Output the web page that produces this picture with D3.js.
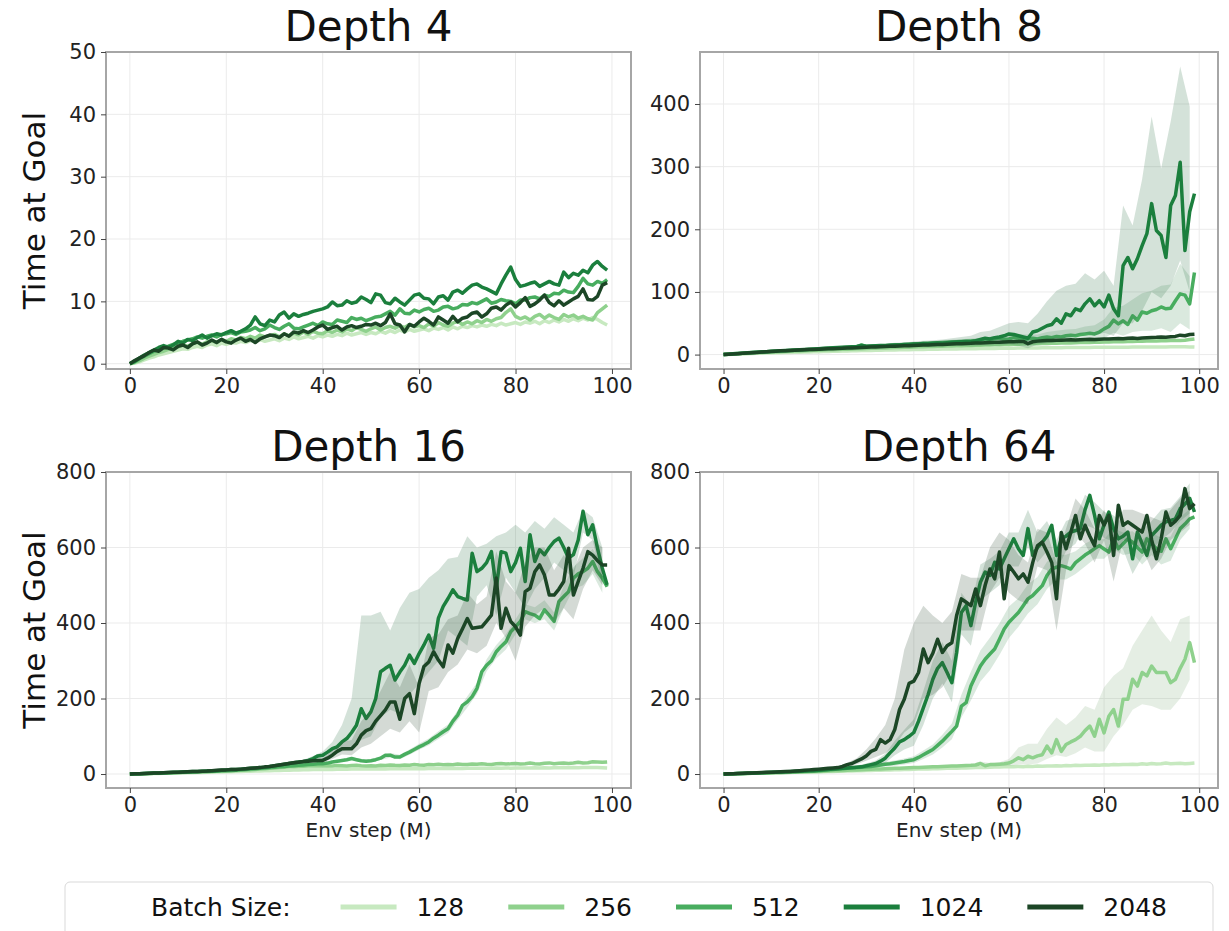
<html>
<head>
<meta charset="utf-8">
<title>Time at Goal by depth</title>
<script src="https://cdn.jsdelivr.net/npm/d3@7"></script>
<style>
  body { margin: 0; background: #fff; }
  text { font-family: 'DejaVu Sans', sans-serif; }
</style>
</head>
<body>
<script>
var width = 1229, height = 931;

// batch sizes and their colours
var batchSizes = ['128', '256', '512', '1024', '2048'];
var colors = ['#c7e9c0', '#8fd18d', '#48ad5f', '#1b7f3d', '#1c4626'];

// env step (M) of every logged point, and of the confidence band samples
var steps = d3.range(100);
var bandSteps = d3.range(0, 100, 2);

var xTicks = [0, 20, 40, 60, 80, 100];

// ---- Depth 4 ----
var d4_128 = [0, 0.1, 0.3, 0.6, 0.9, 1.1, 1.4, 1.6, 1.8, 2.0,
  2.2, 2.4, 2.3, 2.6, 2.8, 2.6, 3.0, 3.2, 2.9, 3.3,
  3.1, 3.4, 3.3, 3.6, 3.4, 3.7, 3.5, 3.9, 3.6, 3.8,
  4.0, 3.7, 4.1, 3.9, 4.3, 4.0, 4.2, 4.4, 4.1, 4.5,
  4.3, 4.6, 4.4, 4.7, 4.5, 4.9, 4.6, 4.8, 5.0, 4.7,
  5.0, 4.8, 5.2, 4.9, 5.3, 5.0, 5.4, 5.1, 5.5, 5.2,
  5.4, 5.6, 5.3, 5.7, 5.5, 5.8, 5.4, 5.9, 5.6, 6.0,
  5.8, 6.1, 5.9, 6.2, 6.0, 6.3, 6.1, 6.5, 6.2, 6.4,
  6.6, 6.3, 6.7, 6.5, 6.8, 6.4, 6.9, 6.6, 7.0, 6.7,
  7.1, 6.8, 7.2, 6.9, 7.3, 7.0, 7.4, 7.1, 6.6, 6.2];
var d4_256 = [0, 0.2, 0.5, 0.9, 1.2, 1.5, 1.8, 2.0, 2.3, 2.5,
  2.7, 3.0, 2.8, 3.2, 3.4, 3.1, 3.5, 3.7, 3.4, 3.9,
  3.6, 4.0, 3.8, 4.2, 4.0, 4.4, 4.1, 4.6, 4.3, 4.5,
  4.7, 4.3, 4.8, 4.5, 4.9, 4.6, 5.1, 4.7, 5.2, 4.9,
  4.8, 5.3, 5.0, 5.4, 5.1, 5.6, 5.3, 5.8, 5.5, 5.2,
  5.6, 5.9, 5.4, 5.8, 6.0, 5.7, 6.1, 5.8, 6.3, 5.9,
  6.1, 5.8, 6.4, 6.0, 6.6, 6.2, 6.0, 6.5, 6.8, 6.3,
  6.7, 6.4, 6.9, 6.6, 7.1, 6.8, 7.2, 7.4, 8.2, 8.8,
  7.6, 7.2, 7.5, 7.0, 7.6, 7.9, 7.3, 7.8, 7.4, 7.1,
  7.9, 7.5, 7.8, 7.3, 7.6, 7.2, 7.0, 8.2, 8.8, 9.4];
var d4_512 = [0, 0.3, 0.8, 1.2, 1.6, 2.0, 2.3, 2.6, 2.8, 3.1,
  3.3, 3.6, 3.8, 4.0, 4.3, 4.1, 4.4, 4.6, 4.3, 4.7,
  4.8, 5.0, 4.7, 5.1, 5.2, 5.4, 5.8, 5.3, 5.6, 6.2,
  5.8, 5.5, 6.0, 6.4, 5.7, 5.6, 5.9, 6.2, 6.5, 6.1,
  6.7, 6.4, 6.3, 7.0, 6.8, 6.6, 7.4, 7.1, 7.3, 6.9,
  7.2, 7.5, 7.6, 8.0, 8.4, 7.8, 8.8, 8.1, 8.0, 8.6,
  8.3, 8.7, 8.9, 8.4, 8.6, 9.1, 9.2, 8.8, 9.0, 9.5,
  9.4, 9.8, 9.6, 10.0, 10.4, 9.7, 9.9, 10.3, 10.1, 10.0,
  9.6, 10.2, 10.2, 10.6, 10.7, 10.4, 11.0, 10.8, 11.3, 11.2,
  11.8, 11.5, 11.4, 12.4, 13.7, 12.8, 12.6, 13.2, 12.9, 13.5];
var d4_1024 = [0, 0.4, 0.9, 1.4, 1.8, 2.2, 2.6, 2.9, 2.6, 3.0,
  3.6, 3.3, 3.9, 3.7, 4.2, 4.6, 4.1, 4.5, 4.8, 4.6,
  5.0, 5.3, 4.9, 5.2, 5.6, 6.2, 7.5, 6.4, 6.1, 7.0,
  6.7, 7.8, 8.3, 7.3, 8.0, 7.6, 7.9, 8.1, 8.4, 8.6,
  8.8, 9.1, 9.9, 9.3, 9.4, 10.1, 9.7, 9.9, 10.7, 10.3,
  9.8, 11.2, 11.0, 9.8, 9.6, 10.5, 9.9, 9.4, 10.2, 11.0,
  11.2, 10.5, 10.4, 9.6, 10.7, 10.9, 10.2, 11.5, 11.8, 11.3,
  12.0, 12.6, 12.8, 12.3, 12.0, 11.6, 11.2, 12.8, 14.2, 15.5,
  13.5, 12.4, 12.6, 12.9, 13.1, 12.4, 12.8, 13.2, 12.8, 12.6,
  14.7, 13.8, 14.5, 14.2, 15.0, 14.6, 15.8, 16.4, 15.6, 15.0];
var d4_2048 = [0, 0.5, 0.9, 1.3, 1.8, 2.2, 2.0, 2.6, 2.5, 2.2,
  2.8, 3.0, 2.6, 3.2, 3.5, 3.0, 3.3, 3.8, 3.4, 3.9,
  3.5, 3.3, 3.8, 4.1, 3.6, 3.9, 3.4, 4.0, 4.3, 4.6,
  4.5, 4.2, 4.8, 4.4, 5.1, 4.9, 5.3, 5.0, 5.4, 5.9,
  6.2, 5.5, 5.8, 6.0, 5.4, 5.9, 6.1, 5.8, 6.0, 6.3,
  6.2, 6.5, 6.1, 6.6, 8.0, 6.4, 6.2, 5.1, 6.3, 6.0,
  6.7, 7.3, 6.8, 6.2, 7.5, 7.0, 6.5, 7.6, 6.7, 7.3,
  7.5, 8.1, 8.3, 7.5, 8.0, 8.9, 9.1, 8.6, 9.4, 9.9,
  9.1, 9.8, 10.6, 9.2, 9.6, 10.2, 11.0, 9.8, 9.3, 10.1,
  9.4, 9.9, 10.4, 10.8, 12.0, 10.3, 10.2, 10.8, 12.6, 13.0];

// ---- Depth 8 ----
var d8_128 = [0, 0.3, 0.6, 0.9, 1.2, 1.5, 1.8, 2.0, 2.2, 2.4,
  2.6, 2.8, 3.0, 3.2, 3.4, 3.6, 3.8, 4.0, 4.2, 4.4,
  4.6, 4.8, 5.0, 5.2, 5.4, 5.6, 5.8, 6.0, 6.2, 6.4,
  6.5, 6.7, 6.9, 7.0, 7.2, 7.3, 7.5, 7.6, 7.8, 7.9,
  8.0, 8.1, 8.3, 8.4, 8.5, 8.6, 8.8, 8.9, 9.0, 9.1,
  9.2, 9.3, 9.4, 9.5, 9.6, 9.7, 9.8, 9.9, 10.0, 10.1,
  10.2, 10.3, 10.4, 10.5, 10.5, 10.6, 10.7, 10.8, 10.9, 11.0,
  11.0, 11.1, 11.2, 11.2, 11.3, 11.4, 11.4, 11.5, 11.6, 11.6,
  11.7, 11.7, 11.8, 11.8, 11.9, 11.9, 12.0, 12.0, 12.1, 12.1,
  12.2, 12.2, 12.3, 12.3, 12.4, 12.4, 12.5, 12.5, 12.3, 12.0];
var d8_256 = [0, 0.4, 0.9, 1.3, 1.7, 2.1, 2.5, 2.9, 3.3, 3.6,
  4.0, 4.3, 4.6, 5.0, 5.3, 5.6, 5.9, 6.2, 6.5, 6.8,
  7.1, 7.4, 7.6, 7.9, 8.2, 8.4, 8.7, 9.0, 9.2, 9.5,
  9.7, 10.0, 10.2, 10.5, 10.7, 11.0, 11.2, 11.4, 11.7, 11.9,
  12.1, 12.4, 12.6, 12.8, 13.0, 13.2, 13.5, 13.7, 13.9, 14.1,
  14.3, 14.5, 14.7, 14.9, 15.1, 15.3, 15.5, 15.7, 15.9, 16.1,
  16.3, 16.5, 16.7, 16.9, 17.1, 17.3, 17.5, 17.6, 17.8, 18.0,
  18.2, 18.4, 18.6, 18.7, 18.9, 19.1, 19.3, 19.4, 19.6, 19.8,
  20.0, 20.1, 20.3, 20.5, 20.6, 20.8, 21.0, 21.1, 21.3, 21.5,
  21.6, 21.8, 22.0, 22.1, 22.3, 22.5, 22.6, 23.0, 24.0, 25.0];
var d8_512 = [0, 0.6, 1.2, 1.7, 2.2, 2.7, 3.2, 3.7, 4.1, 4.6,
  5.0, 5.4, 5.9, 6.3, 6.7, 7.1, 7.5, 7.9, 8.3, 8.7,
  9.1, 9.5, 9.9, 10.3, 10.7, 11.1, 11.5, 11.9, 12.3, 15.5,
  13.0, 13.4, 13.8, 14.2, 14.6, 15.0, 15.4, 15.8, 16.2, 16.6,
  17.0, 17.4, 17.8, 18.2, 18.6, 19.0, 19.4, 19.8, 20.2, 20.6,
  21.0, 21.4, 21.8, 22.2, 22.6, 25.0, 24.0, 25.0, 26.0, 24.0,
  25.0, 27.0, 26.0, 24.0, 25.0, 26.0, 25.0, 27.0, 28.0, 27.0,
  29.0, 28.0, 30.0, 31.0, 30.0, 32.0, 33.0, 34.0, 33.0, 36.0,
  41.0, 45.0, 55.0, 49.0, 54.0, 48.0, 62.0, 55.0, 68.0, 66.0,
  70.0, 72.0, 76.0, 73.0, 74.0, 86.0, 97.0, 95.0, 81.0, 131.0];
var d8_1024 = [0, 0.6, 1.2, 1.8, 2.3, 2.8, 3.3, 3.8, 4.2, 4.7,
  5.2, 5.6, 6.1, 6.5, 7.0, 7.4, 7.8, 8.3, 8.7, 9.1,
  9.5, 10.0, 10.4, 10.8, 11.2, 11.6, 12.0, 12.4, 12.8, 14.5,
  13.2, 13.6, 14.0, 14.4, 14.2, 15.0, 15.4, 15.2, 16.0, 16.3,
  16.8, 17.0, 17.6, 17.2, 18.0, 18.5, 18.3, 19.0, 19.6, 20.0,
  20.5, 21.0, 20.6, 22.0, 24.0, 26.0, 25.0, 27.0, 28.0, 30.0,
  33.0, 32.0, 30.0, 28.0, 26.0, 36.0, 38.0, 42.0, 46.0, 48.0,
  57.0, 50.0, 65.0, 62.0, 73.0, 70.0, 81.0, 89.0, 78.0, 86.0,
  76.0, 95.0, 73.0, 62.0, 142.0, 155.0, 137.0, 153.0, 174.0, 193.0,
  241.0, 198.0, 190.0, 155.0, 238.0, 254.0, 307.0, 166.0, 228.0, 257.0];
var d8_2048 = [0, 0.5, 1.0, 1.5, 2.0, 2.5, 3.0, 3.5, 4.0, 4.5,
  5.0, 5.5, 6.0, 6.3, 6.6, 7.0, 7.3, 7.6, 8.0, 8.2,
  8.5, 8.8, 9.2, 9.5, 9.8, 10.0, 10.4, 10.7, 11.0, 11.3,
  11.6, 12.0, 12.3, 12.6, 13.0, 13.2, 13.5, 13.8, 14.0, 14.3,
  14.6, 14.9, 15.2, 15.4, 15.8, 16.0, 16.3, 16.6, 17.0, 17.3,
  17.5, 17.8, 18.0, 18.4, 18.6, 19.0, 19.2, 19.5, 19.8, 20.0,
  20.3, 20.5, 20.8, 21.0, 17.5, 20.5, 21.5, 22.0, 22.3, 22.6,
  22.8, 23.0, 23.2, 23.5, 23.2, 23.8, 24.0, 24.3, 24.0, 24.6,
  25.0, 24.7, 25.3, 25.6, 25.2, 26.0, 26.3, 25.8, 26.5, 27.0,
  27.2, 27.5, 28.0, 27.6, 28.4, 29.0, 31.0, 30.0, 32.0, 32.5];
// confidence bands (every 2M steps)
var d8_512_lo = [0, 0.8, 1.6, 2.5, 3.3, 4, 4.8, 5.5, 6.2, 6.9,
  7.6, 8.3, 9, 9.7, 10.3, 11, 11.6, 12.3, 13, 13.6,
  14.2, 14.8, 15.5, 16.1, 16.8, 17.4, 18, 18.6, 19.5, 21,
  19, 19.5, 18, 18, 20, 20, 20, 19, 21, 19,
  26, 35, 30, 36, 38, 38, 42, 36, 50, 40];
var d8_512_hi = [0, 1.6, 2.8, 3.9, 4.9, 6, 7, 7.9, 8.8, 9.7,
  10.6, 11.5, 12.4, 13.3, 14.3, 15, 16, 16.9, 17.8, 18.8,
  19.8, 20.8, 21.7, 22.7, 23.6, 24.6, 25.6, 26.6, 28.5, 31,
  31, 32.5, 32, 32, 36, 38, 40, 41, 45, 47,
  56, 75, 78, 88, 98, 102, 110, 112, 145, 125];
var d8_1024_lo = [0, 0.8, 1.7, 2.5, 3.2, 4, 4.8, 5.5, 6.2, 7,
  7.5, 8, 8.8, 9.5, 10, 10.5, 11, 11, 12, 12.5,
  12.5, 13, 13, 13, 14, 14, 13, 14, 14, 14,
  16, 14, 10, 16, 18, 20, 25, 30, 35, 30,
  35, 30, 50, 50, 70, 100, 90, 110, 150, 100];
var d8_1024_hi = [0, 1.6, 2.9, 4.1, 5.2, 6.5, 7.5, 8.5, 9.5, 10.5,
  11.5, 12.8, 13.6, 14.5, 15.6, 16, 17, 17.5, 19, 19.5,
  21, 22, 23, 24, 26, 28, 30, 36, 38, 44,
  50, 52, 50, 65, 85, 102, 110, 113, 130, 120,
  134, 110, 238, 206, 280, 380, 297, 372, 460, 396];

// ---- Depth 16 ----
var d16_128 = [0, 0.2, 0.4, 0.7, 1.0, 1.3, 1.6, 1.9, 2.2, 2.5,
  2.8, 3.1, 3.4, 3.7, 4.0, 4.3, 4.6, 5.0, 5.3, 5.6,
  6.0, 6.3, 6.6, 7.0, 7.3, 7.6, 8.0, 8.3, 8.6, 9.0,
  9.3, 9.6, 10.0, 10.3, 10.6, 11.0, 11.2, 11.5, 11.8, 12.0,
  12.2, 12.5, 12.3, 12.8, 13.0, 12.7, 13.2, 13.0, 13.4, 13.1,
  13.5, 13.3, 13.8, 13.5, 14.0, 13.7, 14.2, 13.9, 14.3, 14.0,
  14.5, 14.2, 14.7, 14.4, 14.9, 14.6, 15.0, 14.7, 15.2, 14.9,
  15.3, 15.0, 15.5, 15.2, 15.6, 15.3, 15.8, 15.5, 16.0, 15.6,
  16.1, 15.8, 16.3, 16.0, 16.4, 16.1, 16.6, 16.3, 16.8, 16.4,
  17.0, 16.6, 17.2, 16.8, 17.4, 17.0, 17.6, 17.2, 16.5, 15.8];
var d16_256 = [0, 0.3, 0.6, 1.0, 1.4, 1.8, 2.2, 2.6, 3.0, 3.4,
  3.8, 4.2, 4.6, 5.0, 5.5, 6.0, 6.5, 7.0, 7.5, 8.0,
  8.5, 9.0, 9.5, 10.0, 10.5, 11.0, 12.0, 13.0, 14.0, 15.0,
  16.0, 17.0, 18.0, 19.0, 19.5, 20.0, 20.5, 21.0, 21.0, 21.5,
  21.0, 22.0, 21.5, 22.5, 22.0, 21.0, 22.5, 23.0, 22.0, 21.5,
  22.0, 21.0, 23.0, 22.5, 24.0, 23.0, 22.5, 24.0, 23.5, 25.0,
  24.0, 23.5, 25.0, 24.5, 26.0, 24.5, 25.5, 24.5, 26.5, 25.5,
  25.0, 26.5, 26.0, 27.5, 26.0, 25.5, 27.0, 28.0, 26.5, 27.0,
  28.0, 26.5, 27.5, 29.0, 27.5, 26.5, 28.5, 29.5, 27.5, 28.5,
  29.5, 28.0, 29.0, 31.0, 29.0, 30.0, 32.5, 32.0, 31.0, 32.0];
var d16_512 = [0, 0.4, 0.8, 1.2, 1.6, 2.0, 2.4, 2.8, 3.2, 3.6,
  4.0, 4.5, 5.0, 5.5, 6.0, 6.5, 7.0, 7.5, 8.0, 8.5,
  9.0, 9.5, 10.0, 11.0, 12.0, 13.0, 14.0, 15.0, 16.0, 17.0,
  18.0, 19.0, 20.0, 21.0, 22.0, 23.0, 24.0, 25.0, 26.0, 27.0,
  27.0, 29.0, 32.0, 34.0, 36.0, 38.0, 41.0, 38.0, 35.0, 34.0,
  35.0, 38.0, 42.0, 50.0, 50.0, 45.0, 45.0, 52.0, 58.0, 65.0,
  72.0, 78.0, 85.0, 95.0, 103.0, 112.0, 120.0, 140.0, 156.0, 182.0,
  191.0, 205.0, 227.0, 271.0, 288.0, 300.0, 324.0, 338.0, 350.0, 377.0,
  390.0, 404.0, 430.0, 425.0, 421.0, 412.0, 435.0, 420.0, 404.0, 457.0,
  470.0, 483.0, 519.0, 530.0, 536.0, 545.0, 563.0, 536.0, 519.0, 496.0];
var d16_1024 = [0, 0.5, 1.0, 1.5, 2.0, 2.5, 3.0, 3.5, 4.0, 4.5,
  5.0, 5.5, 6.0, 6.5, 7.0, 7.5, 8.0, 8.5, 9.0, 10.0,
  11.0, 12.0, 12.0, 13.0, 14.0, 15.0, 16.0, 17.0, 18.0, 20.0,
  22.0, 24.0, 26.0, 28.0, 30.0, 32.0, 33.0, 36.0, 41.0, 48.0,
  50.0, 58.0, 67.0, 72.0, 85.0, 94.0, 110.0, 129.0, 173.0, 147.0,
  165.0, 200.0, 271.0, 280.0, 288.0, 249.0, 270.0, 288.0, 315.0, 293.0,
  319.0, 342.0, 368.0, 333.0, 413.0, 444.0, 465.0, 488.0, 470.0, 465.0,
  461.0, 585.0, 536.0, 545.0, 560.0, 589.0, 492.0, 589.0, 585.0, 536.0,
  560.0, 598.0, 510.0, 634.0, 563.0, 594.0, 581.0, 600.0, 616.0, 625.0,
  600.0, 572.0, 581.0, 620.0, 696.0, 634.0, 660.0, 598.0, 545.0, 501.0];
var d16_2048 = [0, 0.5, 1.0, 1.5, 2.0, 2.5, 3.0, 3.5, 4.0, 4.5,
  5.0, 5.5, 6.0, 6.5, 7.0, 7.5, 8.0, 9.0, 10.0, 11.0,
  11.0, 12.0, 12.0, 13.0, 14.0, 15.0, 16.0, 17.0, 19.0, 20.0,
  22.0, 24.0, 26.0, 28.0, 30.0, 31.0, 33.0, 34.0, 35.0, 36.0,
  36.0, 42.0, 50.0, 60.0, 67.0, 67.0, 67.0, 80.0, 103.0, 115.0,
  120.0, 140.0, 155.0, 170.0, 191.0, 191.0, 145.0, 200.0, 213.0, 160.0,
  240.0, 285.0, 297.0, 324.0, 302.0, 284.0, 342.0, 320.0, 359.0, 385.0,
  412.0, 386.0, 388.0, 390.0, 405.0, 421.0, 519.0, 386.0, 439.0, 404.0,
  390.0, 368.0, 483.0, 492.0, 536.0, 554.0, 527.0, 474.0, 474.0, 490.0,
  510.0, 598.0, 474.0, 510.0, 545.0, 589.0, 580.0, 565.0, 554.0, 554.0];
var d16_512_lo = [0, 0.6, 1.3, 2, 2.7, 3.4, 4.3, 5.2, 6, 7,
  7.8, 8.7, 10.5, 12.3, 14, 16, 18, 19.5, 21.5, 23.5,
  24, 29, 32, 37, 31, 31, 37, 44, 39, 51,
  64, 76, 93, 109, 143, 176, 212, 272, 306, 330,
  370, 410, 400, 410, 380, 440, 490, 500, 530, 480];
var d16_512_hi = [0, 1, 1.9, 2.8, 3.7, 4.6, 5.7, 6.8, 8, 9,
  10.2, 11.3, 13.5, 15.7, 18, 20, 22, 24.5, 26.5, 28.5,
  30, 35, 40, 45, 39, 39, 47, 56, 51, 65,
  80, 94, 113, 131, 169, 206, 242, 304, 342, 370,
  410, 450, 442, 460, 428, 500, 548, 572, 596, 558];
var d16_1024_lo = [0, 0.8, 1.7, 2.6, 3.5, 4.4, 5.3, 6.2, 7, 8,
  9.5, 10.5, 12, 14, 15.5, 19, 22, 25, 28, 34,
  40, 50, 60, 70, 90, 100, 150, 170, 160, 210,
  240, 270, 300, 380, 360, 340, 470, 500, 420, 520,
  480, 440, 490, 520, 560, 540, 520, 640, 620, 500];
var d16_1024_hi = [0, 1.2, 2.3, 3.4, 4.5, 5.6, 6.7, 7.8, 9, 10,
  12.5, 13.5, 16, 18, 20.5, 25, 30, 35, 38, 48,
  60, 85, 130, 200, 420, 420, 430, 380, 440, 480,
  490, 520, 540, 570, 575, 630, 600, 610, 630, 640,
  660, 640, 670, 650, 680, 660, 640, 700, 680, 600];
var d16_2048_lo = [0, 0.8, 1.7, 2.6, 3.5, 4.4, 5.3, 6.2, 7, 8.5,
  9.5, 10.5, 12, 14, 16.5, 19, 22, 25, 28, 30,
  31, 40, 52, 50, 70, 80, 100, 120, 110, 140,
  110, 220, 230, 270, 290, 330, 320, 340, 400, 360,
  300, 390, 420, 440, 400, 440, 410, 490, 540, 500];
var d16_2048_hi = [0, 1.2, 2.3, 3.4, 4.5, 5.6, 6.7, 7.8, 9, 11.5,
  12.5, 13.5, 16, 18, 21.5, 25, 30, 35, 38, 40,
  42, 62, 85, 90, 140, 170, 220, 270, 230, 290,
  230, 360, 370, 410, 420, 480, 450, 470, 590, 510,
  480, 560, 600, 600, 540, 580, 540, 600, 620, 600];

// ---- Depth 64 ----
var d64_128 = [0, 0.3, 0.6, 0.9, 1.2, 1.5, 1.8, 2.1, 2.4, 2.7,
  3.0, 3.3, 3.6, 3.9, 4.2, 4.5, 4.8, 5.1, 5.4, 5.7,
  6.0, 6.3, 6.6, 7.0, 7.3, 7.6, 8.0, 8.3, 8.6, 9.0,
  9.3, 9.6, 10.0, 10.3, 10.6, 11.0, 11.3, 11.6, 12.0, 12.3,
  12.6, 13.0, 13.3, 13.6, 14.0, 14.3, 14.6, 15.0, 15.3, 15.6,
  16.0, 16.3, 16.6, 17.0, 17.3, 17.6, 18.0, 18.3, 18.6, 19.0,
  19.3, 19.6, 20.0, 19.5, 20.5, 20.0, 21.0, 20.5, 21.5, 21.0,
  22.0, 21.5, 22.5, 22.0, 23.0, 22.5, 23.5, 23.0, 24.0, 23.5,
  24.5, 24.0, 25.0, 24.5, 25.5, 25.0, 26.0, 25.5, 27.0, 26.0,
  28.0, 26.5, 27.0, 29.0, 27.5, 28.0, 28.5, 27.0, 28.0, 29.0];
var d64_256 = [0, 0.3, 0.6, 0.9, 1.2, 1.5, 1.8, 2.1, 2.4, 2.7,
  3.0, 3.3, 3.6, 4.0, 4.4, 4.8, 5.2, 5.6, 6.0, 6.5,
  7.0, 7.5, 8.0, 8.5, 9.0, 9.5, 10.0, 10.5, 11.0, 11.5,
  12.0, 12.5, 13.0, 13.5, 14.0, 14.5, 15.0, 15.5, 16.0, 16.5,
  17.0, 17.5, 18.0, 18.5, 19.0, 19.5, 20.0, 20.5, 21.0, 21.5,
  22.0, 22.5, 23.0, 24.0, 28.0, 22.0, 25.0, 25.0, 26.0, 27.0,
  29.0, 35.0, 43.0, 38.0, 47.0, 43.0, 48.0, 51.0, 74.0, 56.0,
  91.0, 60.0, 78.0, 85.0, 91.0, 100.0, 115.0, 127.0, 100.0, 145.0,
  109.0, 153.0, 171.0, 127.0, 198.0, 198.0, 251.0, 233.0, 269.0, 260.0,
  286.0, 269.0, 269.0, 269.0, 242.0, 251.0, 280.0, 304.0, 348.0, 295.0];
var d64_512 = [0, 0.4, 0.8, 1.2, 1.6, 2.0, 2.4, 2.8, 3.2, 3.6,
  4.0, 4.5, 5.0, 5.5, 6.0, 6.5, 7.0, 7.5, 8.0, 8.5,
  9.0, 10.0, 11.0, 12.0, 13.0, 14.0, 15.0, 16.0, 17.0, 18.0,
  19.0, 20.0, 22.0, 24.0, 26.0, 27.0, 29.0, 31.0, 33.0, 36.0,
  38.0, 44.0, 51.0, 58.0, 65.0, 76.0, 87.0, 100.0, 113.0, 127.0,
  180.0, 189.0, 233.0, 260.0, 286.0, 304.0, 318.0, 331.0, 357.0, 384.0,
  402.0, 415.0, 428.0, 446.0, 464.0, 473.0, 486.0, 499.0, 526.0, 543.0,
  548.0, 552.0, 548.0, 543.0, 560.0, 570.0, 580.0, 588.0, 597.0, 605.0,
  596.0, 588.0, 623.0, 597.0, 610.0, 623.0, 614.0, 600.0, 588.0, 623.0,
  610.0, 597.0, 590.0, 623.0, 597.0, 623.0, 650.0, 662.0, 676.0, 681.0];
var d64_1024 = [0, 0.4, 0.8, 1.2, 1.6, 2.0, 2.5, 3.0, 3.5, 4.0,
  4.5, 5.0, 5.5, 6.0, 6.5, 7.0, 7.5, 8.0, 8.5, 9.0,
  10.0, 11.0, 12.0, 13.0, 14.0, 15.0, 16.0, 17.0, 18.0, 19.0,
  22.0, 25.0, 28.0, 34.0, 42.0, 56.0, 69.0, 85.0, 91.0, 100.0,
  110.0, 140.0, 175.0, 210.0, 251.0, 280.0, 295.0, 269.0, 242.0, 322.0,
  428.0, 446.0, 393.0, 455.0, 508.0, 535.0, 526.0, 561.0, 543.0, 570.0,
  597.0, 623.0, 597.0, 579.0, 650.0, 579.0, 600.0, 614.0, 630.0, 659.0,
  579.0, 623.0, 630.0, 641.0, 645.0, 650.0, 700.0, 738.0, 685.0, 623.0,
  660.0, 694.0, 650.0, 623.0, 630.0, 641.0, 570.0, 641.0, 610.0, 579.0,
  632.0, 645.0, 659.0, 668.0, 672.0, 676.0, 703.0, 715.0, 730.0, 694.0];
var d64_2048 = [0, 0.5, 1.0, 1.5, 2.0, 2.5, 3.0, 3.5, 4.0, 4.5,
  5.0, 5.5, 6.0, 6.5, 7.0, 8.0, 9.0, 10.0, 11.0, 12.0,
  13.0, 14.0, 15.0, 16.0, 17.0, 20.0, 25.0, 28.0, 34.0, 40.0,
  48.0, 60.0, 65.0, 91.0, 82.0, 91.0, 118.0, 171.0, 198.0, 240.0,
  246.0, 269.0, 331.0, 295.0, 320.0, 357.0, 322.0, 340.0, 348.0, 420.0,
  464.0, 455.0, 446.0, 490.0, 446.0, 500.0, 543.0, 517.0, 588.0, 464.0,
  552.0, 535.0, 517.0, 530.0, 508.0, 560.0, 605.0, 614.0, 588.0, 560.0,
  464.0, 640.0, 597.0, 640.0, 685.0, 623.0, 659.0, 630.0, 605.0, 685.0,
  660.0, 685.0, 579.0, 712.0, 659.0, 668.0, 659.0, 650.0, 641.0, 685.0,
  620.0, 570.0, 623.0, 694.0, 659.0, 670.0, 685.0, 756.0, 703.0, 716.0];
var d64_256_lo = [0, 0.5, 1, 1.6, 2.2, 2.8, 3.3, 4, 4.8, 5.8,
  6.5, 7.5, 8.5, 9.5, 10.5, 11.5, 12.5, 13.5, 14.5, 15.5,
  16.5, 17.5, 18.5, 19.5, 20.5, 20, 21, 24, 22, 22,
  22, 25, 25, 28, 40, 50, 45, 55, 70, 60,
  60, 100, 130, 170, 185, 180, 170, 170, 200, 250];
var d64_256_hi = [0, 0.7, 1.4, 2.2, 3, 3.8, 4.5, 5.4, 6.4, 7.4,
  8.5, 9.5, 10.5, 11.5, 12.5, 13.5, 14.5, 15.5, 16.5, 17.5,
  18.5, 19.5, 20.5, 21.5, 22.5, 25, 26, 33, 29, 31,
  40, 70, 80, 80, 120, 150, 130, 150, 180, 170,
  230, 260, 280, 340, 380, 420, 380, 350, 410, 420];
var d64_512_lo = [0, 0.6, 1.2, 1.8, 2.4, 3, 3.8, 4.6, 5.4, 6.2,
  7, 8.5, 10, 11.5, 13, 14.5, 17, 20, 22, 25,
  29, 40, 52, 70, 92, 150, 195, 245, 275, 315,
  360, 390, 425, 450, 490, 515, 515, 530, 550, 570,
  570, 595, 580, 585, 555, 580, 555, 565, 620, 650];
var d64_512_hi = [0, 1, 2, 3, 4, 5, 6.2, 7.4, 8.6, 9.8,
  11, 13.5, 16, 18.5, 21, 23.5, 27, 32, 36, 41,
  47, 62, 78, 104, 134, 210, 271, 327, 361, 399,
  444, 466, 503, 522, 562, 581, 581, 590, 610, 624,
  622, 651, 640, 643, 621, 640, 625, 629, 680, 702];
var d64_1024_lo = [0, 0.6, 1.2, 1.9, 2.7, 3.5, 4.3, 5, 5.8, 6.5,
  7.5, 9, 10.5, 12, 13.5, 16, 20, 30, 50, 65,
  75, 130, 200, 240, 190, 370, 340, 460, 480, 500,
  550, 550, 600, 560, 590, 540, 590, 610, 660, 650,
  625, 615, 595, 530, 575, 595, 620, 640, 670, 690];
var d64_1024_hi = [0, 1, 2, 3.1, 4.3, 5.5, 6.7, 8, 9.2, 10.5,
  12.5, 15, 17.5, 20, 22.5, 28, 36, 54, 88, 117,
  145, 220, 300, 350, 300, 480, 445, 555, 570, 590,
  640, 640, 700, 640, 670, 620, 670, 680, 740, 720,
  695, 685, 665, 610, 645, 670, 700, 705, 735, 770];
var d64_2048_lo = [0, 0.8, 1.6, 2.4, 3.2, 4, 4.8, 5.6, 7.5, 9,
  11, 12.5, 14, 20, 26, 35, 45, 55, 75, 110,
  130, 200, 210, 230, 270, 380, 380, 380, 480, 520,
  480, 460, 450, 550, 540, 380, 540, 640, 610, 560,
  620, 510, 620, 610, 600, 540, 570, 620, 640, 660];
var d64_2048_hi = [0, 1.2, 2.4, 3.6, 4.8, 6, 7.2, 8.4, 10.5, 13,
  15, 17.5, 20, 30, 42, 65, 95, 130, 200, 330,
  400, 446, 420, 400, 430, 530, 520, 520, 600, 640,
  620, 580, 560, 650, 640, 560, 650, 730, 700, 650,
  700, 640, 700, 700, 690, 680, 670, 700, 730, 750];

var panels = [
  { title: 'Depth 4', left: 106, right: 631, top: 52, bottom: 369,
    yDomain: [-0.85, 50], yTicks: [0, 10, 20, 30, 40, 50], yLabel: true, xLabel: false,
    series: [d4_128, d4_256, d4_512, d4_1024, d4_2048],
    bands: [null, null, null, null, null] },
  { title: 'Depth 8', left: 700, right: 1218, top: 52, bottom: 369,
    yDomain: [-23, 483], yTicks: [0, 100, 200, 300, 400], yLabel: false, xLabel: false,
    series: [d8_128, d8_256, d8_512, d8_1024, d8_2048],
    bands: [null, null, [d8_512_lo, d8_512_hi], [d8_1024_lo, d8_1024_hi], null] },
  { title: 'Depth 16', left: 106, right: 631, top: 472, bottom: 788,
    yDomain: [-37, 800], yTicks: [0, 200, 400, 600, 800], yLabel: true, xLabel: true,
    series: [d16_128, d16_256, d16_512, d16_1024, d16_2048],
    bands: [null, null, [d16_512_lo, d16_512_hi], [d16_1024_lo, d16_1024_hi], [d16_2048_lo, d16_2048_hi]] },
  { title: 'Depth 64', left: 700, right: 1218, top: 472, bottom: 788,
    yDomain: [-37, 800], yTicks: [0, 200, 400, 600, 800], yLabel: false, xLabel: true,
    series: [d64_128, d64_256, d64_512, d64_1024, d64_2048],
    bands: [null, [d64_256_lo, d64_256_hi], [d64_512_lo, d64_512_hi], [d64_1024_lo, d64_1024_hi], [d64_2048_lo, d64_2048_hi]] }
];

var svg = d3.select('body')
  .append('svg')
  .attr('width', width)
  .attr('height', height);

panels.forEach(function (p) {
  var x = d3.scaleLinear().domain([-4.95, 103.95]).range([p.left, p.right]);
  var y = d3.scaleLinear().domain(p.yDomain).range([p.bottom, p.top]);
  var g = svg.append('g');

  // grid
  g.selectAll('line.vg').data(xTicks).enter().append('line')
    .attr('x1', d => x(d)).attr('x2', d => x(d))
    .attr('y1', p.top).attr('y2', p.bottom)
    .attr('stroke', '#ebebeb').attr('stroke-width', 1);
  g.selectAll('line.hg').data(p.yTicks).enter().append('line')
    .attr('x1', p.left).attr('x2', p.right)
    .attr('y1', d => y(d)).attr('y2', d => y(d))
    .attr('stroke', '#ebebeb').attr('stroke-width', 1);

  var line = d3.line()
    .x((d, i) => x(steps[i]))
    .y(d => y(d));

  p.series.forEach(function (vals, k) {
    var b = p.bands[k];
    if (b) {
      var area = d3.area()
        .x(d => x(d))
        .y0((d, i) => y(b[0][i]))
        .y1((d, i) => y(b[1][i]));
      g.append('path')
        .datum(bandSteps)
        .attr('d', area)
        .attr('fill', d3.interpolateRgb(colors[k], '#777')(0.35))
        .attr('fill-opacity', 0.22);
    }
    g.append('path')
      .datum(vals)
      .attr('d', line)
      .attr('fill', 'none')
      .attr('stroke', colors[k])
      .attr('stroke-width', 3.5)
      .attr('stroke-linejoin', 'round');
  });

  // frame
  g.append('rect')
    .attr('x', p.left).attr('y', p.top)
    .attr('width', p.right - p.left).attr('height', p.bottom - p.top)
    .attr('fill', 'none').attr('stroke', '#a6a6a6').attr('stroke-width', 2);

  var xa = g.append('g')
    .attr('transform', 'translate(0,' + p.bottom + ')')
    .call(d3.axisBottom(x).tickValues(xTicks).tickSize(5).tickPadding(4).tickFormat(d3.format('d')));
  var ya = g.append('g')
    .attr('transform', 'translate(' + p.left + ',0)')
    .call(d3.axisLeft(y).tickValues(p.yTicks).tickSize(5).tickPadding(5).tickFormat(d3.format('d')));
  [xa, ya].forEach(function (a) {
    a.select('.domain').remove();
    a.attr('font-size', 21).attr('font-family', 'DejaVu Sans');
    a.selectAll('line').attr('stroke', '#444');
    a.selectAll('text').attr('fill', '#222');
  });

  g.append('text')
    .attr('x', (p.left + p.right) / 2)
    .attr('y', p.top - 11)
    .attr('text-anchor', 'middle')
    .attr('font-size', 42)
    .attr('fill', '#111')
    .text(p.title);

  if (p.yLabel) {
    g.append('text')
      .attr('transform', 'translate(45,' + (p.top + p.bottom) / 2 + ') rotate(-90)')
      .attr('text-anchor', 'middle')
      .attr('font-size', 31)
      .attr('fill', '#111')
      .text('Time at Goal');
  }
  if (p.xLabel) {
    g.append('text')
      .attr('x', (p.left + p.right) / 2)
      .attr('y', p.bottom + 49)
      .attr('text-anchor', 'middle')
      .attr('font-size', 20)
      .attr('fill', '#222')
      .text('Env step (M)');
  }
});

// legend
var leg = svg.append('g');
leg.append('rect')
  .attr('x', 65).attr('y', 882)
  .attr('width', 1148).attr('height', 70)
  .attr('rx', 5)
  .attr('fill', '#fff').attr('stroke', '#d9d9d9').attr('stroke-width', 1);
var head = leg.append('text')
  .attr('x', 151).attr('y', 916)
  .attr('font-size', 25).attr('fill', '#111')
  .text('Batch Size:');
var cx = 151 + head.node().getComputedTextLength() + 50;
batchSizes.forEach(function (b, k) {
  leg.append('line')
    .attr('x1', cx).attr('x2', cx + 56)
    .attr('y1', 907).attr('y2', 907)
    .attr('stroke', colors[k]).attr('stroke-width', 5);
  var t = leg.append('text')
    .attr('x', cx + 76).attr('y', 916)
    .attr('font-size', 25).attr('fill', '#111')
    .text(b);
  cx = cx + 76 + t.node().getComputedTextLength() + 44;
});
</script>
</body>
</html>
